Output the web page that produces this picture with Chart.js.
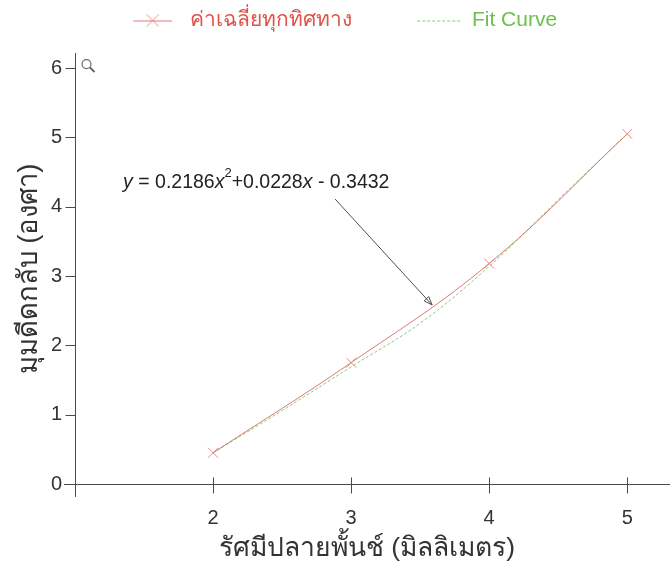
<!DOCTYPE html>
<html>
<head>
<meta charset="utf-8">
<script src="https://cdn.jsdelivr.net/npm/chart.js@4.4.1/dist/chart.umd.min.js"></script>
<style>
  html, body { margin: 0; padding: 0; background: #ffffff; }
  #wrap { width: 670px; height: 566px; }
</style>
</head>
<body>
<div id="wrap"><canvas id="chart" width="670" height="566"></canvas></div>
<script>
// Punch tip radius (mm) against average springback angle (deg)
const radiusMm = [2, 3, 4, 5];
const avgAngle = [0.45, 1.75, 3.18, 5.05];

// Fitted curve, sampled along the radius range
const fitRadius = [2, 2.5, 3, 3.5, 4, 4.5, 5];
const fitAngle = [0.45, 1.06, 1.69, 2.32, 3.14, 4.10, 5.05];

// Axis tick values
const xTickValues = [2, 3, 4, 5];
const xTickMarks = [1, 2, 3, 4, 5];
const yTickValues = [0, 1, 2, 3, 4, 5, 6];

const seriesNames = ['ค่าเฉลี่ยทุกทิศทาง', 'Fit Curve'];
const xTitle = 'รัศมีปลายพั้นช์ (มิลลิเมตร)';
const yTitle = 'มุมดีดกลับ (องศา)';
const fitEquation = { a: '0.2186', b: '0.0228', c: '0.3432' };

const FONT = "'Liberation Sans', Arial, sans-serif";
const RED = 'rgba(214, 96, 96, 0.85)';
const RED_MARK = 'rgba(226, 130, 120, 0.9)';
const GREEN = 'rgba(120, 205, 110, 0.95)';
const AXIS = '#4a4a4a';
const AXIS_TOP = 6.216;   // the y axis line runs a little past the last tick

// Legend symbols: a line with a cross marker, and a dashed line
function legendSymbol(kind) {
  const c = document.createElement('canvas');
  c.width = 66; c.height = 16;
  const g = c.getContext('2d');
  g.lineWidth = 1;
  const cy = 8;
  if (kind === 'avg') {
    const x0 = 20, x1 = 59;
    g.strokeStyle = RED;
    g.beginPath(); g.moveTo(x0, cy + 0.5); g.lineTo(x1, cy + 0.5); g.stroke();
    const cx = (x0 + x1) / 2;
    g.strokeStyle = RED_MARK;
    g.beginPath();
    g.moveTo(cx - 6, cy - 6); g.lineTo(cx + 6, cy + 6);
    g.moveTo(cx + 6, cy - 6); g.lineTo(cx - 6, cy + 6);
    g.stroke();
  } else {
    const x0 = 22, x1 = 66;
    g.strokeStyle = GREEN;
    g.setLineDash([3, 2]);
    g.beginPath(); g.moveTo(x0, cy + 0.5); g.lineTo(x1, cy + 0.5); g.stroke();
  }
  return c;
}
const legendSymbols = [legendSymbol('avg'), legendSymbol('fit')];
const legendColors = ['#e0524a', '#6cc04c'];

// Axis lines that cross at (1, 0), with tick marks, the fit equation with its arrow, and the zoom glyph
const decorations = {
  id: 'decorations',
  afterDatasetsDraw(chart) {
    const { ctx, chartArea: area, scales: { x, y } } = chart;
    const x0 = Math.round(x.getPixelForValue(1)) + 0.5;
    const y0 = Math.round(y.getPixelForValue(0)) + 0.5;
    const yTop = Math.round(y.getPixelForValue(AXIS_TOP));
    ctx.save();
    ctx.strokeStyle = AXIS;
    ctx.lineWidth = 1;
    ctx.beginPath();
    ctx.moveTo(area.left, y0); ctx.lineTo(area.right, y0);
    ctx.moveTo(x0, yTop); ctx.lineTo(x0, area.bottom);
    xTickMarks.forEach(v => {
      const px = Math.round(x.getPixelForValue(v)) + 0.5;
      ctx.moveTo(px, y0 - 7); ctx.lineTo(px, y0 + 9);
    });
    yTickValues.forEach(v => {
      const py = Math.round(y.getPixelForValue(v)) + 0.5;
      ctx.moveTo(x0 - 10, py); ctx.lineTo(x0, py);
    });
    ctx.stroke();

    // zoom glyph next to the top of the y axis
    const gy = y.getPixelForValue(6) - 4;
    ctx.strokeStyle = '#6a6a6a';
    ctx.lineWidth = 1.2;
    ctx.beginPath(); ctx.arc(x0 + 11, gy, 4.5, 0, Math.PI * 2); ctx.stroke();
    ctx.lineWidth = 2;
    ctx.beginPath(); ctx.moveTo(x0 + 14.5, gy + 3.5); ctx.lineTo(x0 + 19, gy + 8); ctx.stroke();

    // arrow from the equation down to the averaged curve
    const ax = x.getPixelForValue(2.884), ay = y.getPixelForValue(4.11);
    const bx = x.getPixelForValue(3.587), by = y.getPixelForValue(2.582);
    ctx.strokeStyle = '#505050';
    ctx.lineWidth = 1;
    ctx.beginPath(); ctx.moveTo(ax, ay); ctx.lineTo(bx, by); ctx.stroke();
    const ang = Math.atan2(by - ay, bx - ax);
    const hl = 9, hw = 0.35;
    ctx.beginPath();
    ctx.moveTo(bx, by);
    ctx.lineTo(bx - hl * Math.cos(ang - hw), by - hl * Math.sin(ang - hw));
    ctx.lineTo(bx - hl * Math.cos(ang + hw), by - hl * Math.sin(ang + hw));
    ctx.closePath();
    ctx.stroke();

    // equation text
    let tx = x.getPixelForValue(1.348);
    const ty = y.getPixelForValue(4.27);
    const size = 19.5;
    const parts = [
      { t: 'y', i: true }, { t: ' = ' + fitEquation.a }, { t: 'x', i: true },
      { t: '2', sup: true }, { t: '+' + fitEquation.b }, { t: 'x', i: true },
      { t: ' - ' + fitEquation.c }
    ];
    ctx.fillStyle = '#222';
    ctx.textBaseline = 'alphabetic';
    ctx.textAlign = 'left';
    parts.forEach(p => {
      const fs = p.sup ? 13 : size;
      ctx.font = (p.i ? 'italic ' : '') + fs + 'px ' + FONT;
      ctx.fillText(p.t, tx, p.sup ? ty - 11 : ty);
      tx += ctx.measureText(p.t).width;
    });
    ctx.restore();
  }
};

function noEdgePadding(s) {
  s.paddingLeft = 0; s.paddingRight = 0; s.paddingTop = 0; s.paddingBottom = 0;
}

new Chart(document.getElementById('chart'), {
  type: 'line',
  data: {
    datasets: [
      {
        label: seriesNames[0],
        data: radiusMm.map((r, i) => ({ x: r, y: avgAngle[i] })),
        borderColor: RED,
        borderWidth: 1,
        tension: 0.4,
        pointStyle: 'crossRot',
        pointRadius: 7,
        pointBorderColor: RED_MARK,
        pointBorderWidth: 1,
        fill: false,
        order: 1
      },
      {
        label: seriesNames[1],
        data: fitRadius.map((r, i) => ({ x: r, y: fitAngle[i] })),
        borderColor: GREEN,
        borderWidth: 1,
        borderDash: [3, 2],
        tension: 0.4,
        pointRadius: 0,
        fill: false,
        order: 2
      }
    ]
  },
  options: {
    responsive: false,
    animation: false,
    events: [],
    layout: { autoPadding: false, padding: { top: -33, left: 0, right: 0, bottom: 0 } },
    plugins: {
      tooltip: { enabled: false },
      legend: {
        position: 'top',
        labels: {
          usePointStyle: true,
          pointStyleWidth: 66.5,
          padding: 43,
          font: { family: FONT, size: 21 },
          generateLabels: () => seriesNames.map((name, i) => ({
            text: name,
            fontColor: legendColors[i],
            pointStyle: legendSymbols[i],
            lineWidth: 0,
            strokeStyle: 'rgba(0,0,0,0)',
            fillStyle: 'rgba(0,0,0,0)',
            hidden: false,
            datasetIndex: i
          }))
        }
      }
    },
    scales: {
      x: {
        type: 'linear',
        min: 0.92,
        max: 5.31,
        afterFit: s => { s.height = 69; noEdgePadding(s); },
        afterBuildTicks: s => { s.ticks = xTickValues.map(v => ({ value: v })); },
        grid: { display: false, drawTicks: false },
        border: { display: false },
        ticks: { color: '#333', padding: 9, font: { family: FONT, size: 20 }, maxRotation: 0 },
        title: {
          display: true,
          text: xTitle,
          color: '#333',
          font: { family: FONT, size: 26.5 },
          padding: { top: 0, bottom: 1 }
        }
      },
      y: {
        type: 'linear',
        min: -0.1875,
        max: 6.39,
        afterFit: s => { s.width = 64; noEdgePadding(s); },
        afterBuildTicks: s => { s.ticks = yTickValues.map(v => ({ value: v })); },
        grid: { display: false, drawTicks: false },
        border: { display: false },
        ticks: { color: '#333', padding: 2, font: { family: FONT, size: 20 } },
        title: {
          display: true,
          text: yTitle,
          color: '#333',
          font: { family: FONT, size: 27.5 },
          padding: { top: 13, bottom: 0 }
        }
      }
    }
  },
  plugins: [decorations]
});
</script>
</body>
</html>
